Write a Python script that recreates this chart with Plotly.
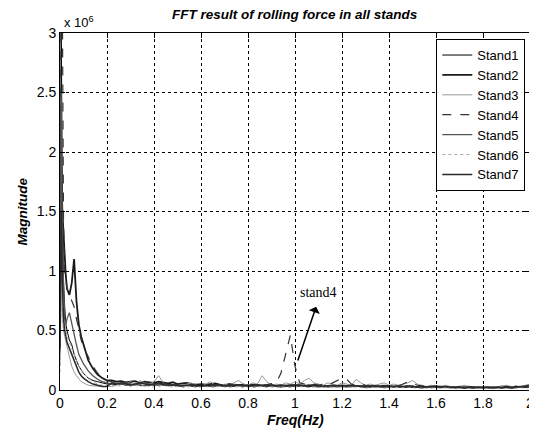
import plotly.graph_objects as go

# Frequency grid (Hz)
FREQ_LOW = [0, 0.005, 0.01, 0.015, 0.02, 0.025, 0.03, 0.04, 0.05, 0.06, 0.07,
            0.08, 0.09, 0.10, 0.12, 0.14, 0.16, 0.18, 0.20]
FREQ_HIGH = [round(0.22 + 0.02 * i, 2) for i in range(90)]
FREQ = FREQ_LOW + FREQ_HIGH

# Magnitudes in units of 1e6
stand1 = [0.55, 3.2, 1.6, 0.9, 0.7, 0.55, 0.5, 0.42, 0.38, 0.3, 0.25, 0.2, 0.17, 0.14, 0.1, 0.08, 0.07, 0.06, 0.05,
          0.05, 0.045, 0.05, 0.04, 0.045, 0.05, 0.04, 0.035, 0.04, 0.045,
          0.04, 0.05, 0.035, 0.04, 0.03, 0.035, 0.04, 0.03, 0.035, 0.03,
          0.035, 0.03, 0.04, 0.035, 0.03, 0.035, 0.03, 0.04, 0.035, 0.03,
          0.03, 0.035, 0.04, 0.03, 0.035, 0.03, 0.025, 0.03, 0.035, 0.03,
          0.03, 0.04, 0.035, 0.03, 0.025, 0.03, 0.035, 0.03, 0.025, 0.03,
          0.03, 0.025, 0.03, 0.035, 0.03, 0.025, 0.03, 0.025, 0.03, 0.025,
          0.03, 0.025, 0.02, 0.025, 0.03, 0.025, 0.02, 0.025, 0.02, 0.025,
          0.02, 0.025, 0.02, 0.025, 0.02, 0.015, 0.02, 0.025, 0.02, 0.02,
          0.02, 0.015, 0.02, 0.025, 0.02, 0.015, 0.02, 0.025, 0.02, 0.025]
stand2 = [0.3, 1.9, 1.5, 1.3, 1.2, 0.95, 0.85, 0.8, 0.9, 1.1, 0.75, 0.55, 0.45, 0.38, 0.25, 0.18, 0.13, 0.1, 0.08,
          0.08, 0.07, 0.075, 0.065, 0.07, 0.075, 0.06, 0.07, 0.065, 0.06,
          0.07, 0.06, 0.055, 0.065, 0.05, 0.055, 0.06, 0.05, 0.045, 0.05,
          0.045, 0.05, 0.055, 0.045, 0.04, 0.05, 0.045, 0.04, 0.045, 0.04,
          0.045, 0.04, 0.035, 0.04, 0.045, 0.035, 0.04, 0.035, 0.04, 0.035,
          0.04, 0.035, 0.03, 0.035, 0.04, 0.03, 0.035, 0.03, 0.035, 0.03,
          0.035, 0.03, 0.035, 0.03, 0.025, 0.03, 0.035, 0.03, 0.025, 0.03,
          0.03, 0.025, 0.03, 0.025, 0.03, 0.025, 0.02, 0.025, 0.03, 0.025,
          0.025, 0.02, 0.025, 0.02, 0.025, 0.02, 0.025, 0.02, 0.02, 0.025,
          0.02, 0.025, 0.02, 0.03, 0.025, 0.02, 0.03, 0.025, 0.03, 0.035]
stand3 = [0.2, 1.0, 0.7, 0.5, 0.45, 0.4, 0.35, 0.28, 0.2, 0.15, 0.12, 0.09, 0.07, 0.06, 0.04, 0.035, 0.03, 0.03, 0.03,
          0.03, 0.04, 0.06, 0.05, 0.07, 0.05, 0.08, 0.06, 0.05, 0.07,
          0.12, 0.06, 0.04, 0.05, 0.03, 0.04, 0.05, 0.06, 0.04, 0.03,
          0.05, 0.07, 0.04, 0.03, 0.05, 0.04, 0.06, 0.08, 0.05, 0.04,
          0.06, 0.05, 0.12, 0.07, 0.04, 0.05, 0.04, 0.06, 0.05, 0.07,
          0.05, 0.08, 0.1, 0.06, 0.05, 0.04, 0.06, 0.05, 0.04, 0.06,
          0.05, 0.04, 0.09, 0.06, 0.04, 0.05, 0.04, 0.05, 0.06, 0.04,
          0.05, 0.04, 0.05, 0.06, 0.08, 0.05, 0.04, 0.03, 0.04, 0.03,
          0.03, 0.04, 0.03, 0.02, 0.03, 0.04, 0.03, 0.02, 0.03, 0.02,
          0.02, 0.03, 0.02, 0.03, 0.04, 0.03, 0.02, 0.03, 0.04, 0.05]
stand4 = [0.5, 3.5, 3.3, 1.4, 1.0, 0.9, 0.85, 0.8, 0.75, 0.7, 0.6, 0.5, 0.42, 0.36, 0.28, 0.2, 0.14, 0.11, 0.08,
          0.07, 0.06, 0.07, 0.05, 0.06, 0.07, 0.05, 0.06, 0.05, 0.04,
          0.05, 0.06, 0.04, 0.05, 0.04, 0.035, 0.04, 0.05, 0.04, 0.035,
          0.04, 0.05, 0.04, 0.035, 0.04, 0.05, 0.045, 0.04, 0.035, 0.04,
          0.04, 0.05, 0.04, 0.045, 0.05, 0.06, 0.14, 0.30, 0.46, 0.2,
          0.06, 0.05, 0.06, 0.05, 0.04, 0.05, 0.04, 0.06, 0.08, 0.1,
          0.09, 0.05, 0.04, 0.05, 0.04, 0.035, 0.04, 0.035, 0.04, 0.035,
          0.04, 0.035, 0.05, 0.07, 0.06, 0.04, 0.035, 0.03, 0.035, 0.03,
          0.03, 0.035, 0.03, 0.025, 0.03, 0.025, 0.03, 0.025, 0.02, 0.025,
          0.02, 0.025, 0.02, 0.025, 0.03, 0.025, 0.02, 0.03, 0.035, 0.04]
stand5 = [0.4, 2.5, 1.2, 0.8, 0.6, 0.55, 0.6, 0.65, 0.55, 0.45, 0.38, 0.3, 0.26, 0.22, 0.16, 0.12, 0.09, 0.07, 0.06,
          0.05, 0.06, 0.05, 0.06, 0.05, 0.04, 0.05, 0.06, 0.05, 0.04,
          0.05, 0.04, 0.045, 0.04, 0.035, 0.04, 0.035, 0.04, 0.03, 0.035,
          0.04, 0.035, 0.03, 0.04, 0.035, 0.03, 0.04, 0.035, 0.03, 0.035,
          0.03, 0.035, 0.03, 0.035, 0.04, 0.03, 0.035, 0.04, 0.03, 0.035,
          0.03, 0.035, 0.04, 0.03, 0.035, 0.03, 0.025, 0.03, 0.035, 0.03,
          0.025, 0.03, 0.035, 0.03, 0.025, 0.03, 0.025, 0.03, 0.025, 0.03,
          0.025, 0.03, 0.025, 0.03, 0.035, 0.025, 0.03, 0.025, 0.02, 0.025,
          0.02, 0.025, 0.02, 0.025, 0.02, 0.025, 0.02, 0.015, 0.02, 0.025,
          0.02, 0.015, 0.02, 0.015, 0.02, 0.025, 0.02, 0.025, 0.03, 0.03]
stand6 = [0.15, 0.9, 0.6, 0.5, 0.55, 0.5, 0.45, 0.4, 0.35, 0.3, 0.25, 0.2, 0.17, 0.14, 0.1, 0.07, 0.05, 0.04, 0.04,
          0.04, 0.03, 0.04, 0.05, 0.03, 0.04, 0.03, 0.04, 0.03, 0.025,
          0.03, 0.04, 0.03, 0.025, 0.03, 0.02, 0.025, 0.03, 0.02, 0.025,
          0.03, 0.025, 0.02, 0.03, 0.025, 0.02, 0.03, 0.025, 0.02, 0.025,
          0.02, 0.025, 0.03, 0.02, 0.025, 0.02, 0.03, 0.025, 0.02, 0.025,
          0.03, 0.025, 0.02, 0.025, 0.02, 0.025, 0.03, 0.02, 0.025, 0.02,
          0.025, 0.02, 0.025, 0.02, 0.015, 0.02, 0.025, 0.02, 0.015, 0.02,
          0.02, 0.015, 0.02, 0.025, 0.02, 0.015, 0.02, 0.015, 0.02, 0.015,
          0.015, 0.02, 0.015, 0.01, 0.015, 0.02, 0.015, 0.01, 0.015, 0.02,
          0.015, 0.01, 0.015, 0.02, 0.015, 0.01, 0.015, 0.02, 0.015, 0.02]
stand7 = [0.35, 1.5, 0.9, 0.6, 0.5, 0.45, 0.4, 0.35, 0.3, 0.25, 0.2, 0.15, 0.12, 0.1, 0.07, 0.05, 0.04, 0.03, 0.03,
          0.06, 0.05, 0.06, 0.05, 0.04, 0.05, 0.06, 0.05, 0.045, 0.05,
          0.06, 0.045, 0.04, 0.045, 0.04, 0.035, 0.04, 0.045, 0.035, 0.04,
          0.035, 0.04, 0.045, 0.04, 0.035, 0.04, 0.035, 0.045, 0.04, 0.035,
          0.04, 0.045, 0.04, 0.035, 0.04, 0.035, 0.04, 0.035, 0.04, 0.045,
          0.04, 0.035, 0.04, 0.045, 0.035, 0.03, 0.035, 0.04, 0.035, 0.04,
          0.035, 0.04, 0.035, 0.03, 0.035, 0.03, 0.035, 0.03, 0.035, 0.03,
          0.03, 0.035, 0.03, 0.035, 0.03, 0.025, 0.03, 0.025, 0.03, 0.025,
          0.025, 0.03, 0.025, 0.02, 0.025, 0.02, 0.025, 0.02, 0.025, 0.02,
          0.025, 0.02, 0.025, 0.02, 0.025, 0.02, 0.025, 0.03, 0.025, 0.03]

NAMES = ["Stand1", "Stand2", "Stand3", "Stand4", "Stand5", "Stand6", "Stand7"]
SERIES = [stand1, stand2, stand3, stand4, stand5, stand6, stand7]
STYLES = [
    dict(color="#000000", width=1.0, dash="solid"),
    dict(color="#1a1a1a", width=1.8, dash="solid"),
    dict(color="#9a9a9a", width=1.0, dash="solid"),
    dict(color="#333333", width=1.2, dash="dash"),
    dict(color="#555555", width=1.3, dash="solid"),
    dict(color="#a8a8a8", width=1.0, dash="dot"),
    dict(color="#2a2a2a", width=1.5, dash="solid"),
]

fig = go.Figure()
for name, vals, st in zip(NAMES, SERIES, STYLES):
    fig.add_trace(go.Scatter(x=FREQ, y=vals, mode="lines", name=name, line=st))

FONT = "Liberation Sans, Arial, sans-serif"
axis_common = dict(
    showline=True, linecolor="black", linewidth=1, mirror="ticks",
    ticks="inside", ticklen=5, tickcolor="black",
    showgrid=True, gridcolor="black", gridwidth=1, griddash="dot",
    zeroline=False, automargin=False, ticklabeloverflow="allow",
    tickfont=dict(family=FONT, size=14, color="black"),
)
fig.update_xaxes(range=[0, 2], dtick=0.2, tick0=0, **axis_common)
fig.update_yaxes(range=[0, 3], dtick=0.5, tick0=0, **axis_common)

# the page body has an 8px margin, so the figure is sized to fit the window
fig.update_layout(
    width=529, height=421,
    margin=dict(l=52, r=7, t=25, b=39, autoexpand=False),
    paper_bgcolor="white", plot_bgcolor="white",
    showlegend=True,
    legend=dict(x=0.99, y=0.983, xanchor="right", yanchor="top",
                bgcolor="white", bordercolor="black", borderwidth=1,
                font=dict(family=FONT, size=13, color="black"),
                entrywidthmode="pixels", entrywidth=50,
                tracegroupgap=0),
    annotations=[
        dict(text="<b><i>FFT result of rolling force in all stands</i></b>",
             xref="paper", yref="paper", x=0.5, y=1, yshift=19,
             xanchor="center", yanchor="middle",
             showarrow=False, font=dict(family=FONT, size=13.5, color="black")),
        dict(text="x 10<sup>6</sup>", xref="paper", yref="paper", x=0, y=1,
             xanchor="left", yanchor="bottom", xshift=2, yshift=1,
             showarrow=False, font=dict(family=FONT, size=13, color="black")),
        dict(text="<b><i>Magnitude</i></b>", xref="paper", yref="paper",
             x=0, y=0.5, xshift=-38, xanchor="center", yanchor="middle",
             textangle=-90, showarrow=False,
             font=dict(family=FONT, size=13.5, color="black")),
        dict(text="<b><i>Freq(Hz)</i></b>", xref="paper", yref="paper",
             x=0.5, y=0, yshift=-30, xanchor="center", yanchor="middle",
             showarrow=False,
             font=dict(family=FONT, size=14, color="black")),
        dict(text="stand4", xref="x", yref="y", x=1.10, y=0.82,
             showarrow=False,
             font=dict(family="Liberation Serif, Times New Roman, serif", size=14, color="black")),
        dict(text="", xref="x", yref="y", x=1.09, y=0.70,
             axref="x", ayref="y", ax=1.01, ay=0.235,
             showarrow=True, arrowhead=1, arrowsize=1.3, arrowwidth=1.5,
             arrowcolor="black"),
    ],
)

fig.write_html("out.html")
